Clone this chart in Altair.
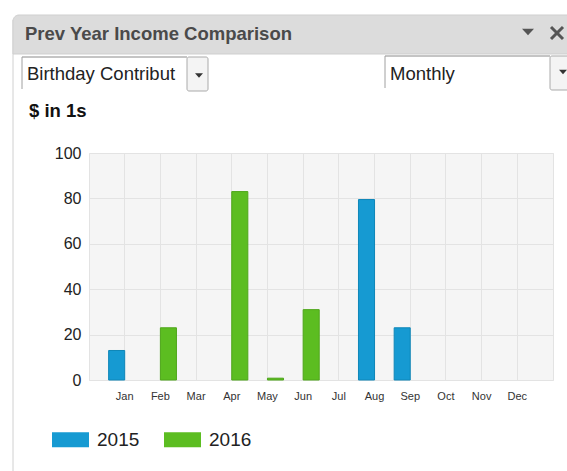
import altair as alt
import pandas as pd

# ---------------- data ----------------
months = ["Jan", "Feb", "Mar", "Apr", "May", "Jun", "Jul", "Aug", "Sep", "Oct", "Nov", "Dec"]
years = ["2015", "2016"]
income_2015 = [13, 0, 0, 0, 0, 0, 0, 79.5, 23, 0, 0, 0]
income_2016 = [0, 23, 0, 83, 0.8, 31, 0, 0, 0, 0, 0, 0]
y_ticks = [0, 20, 40, 60, 80, 100]

bar_colors = ["#169ad2", "#5cbd21"]
bar_edges = ["#0e86b8", "#4ea61a"]

title_text = "Prev Year Income Comparison"
fund_label = "Birthday Contribut"
period_label = "Monthly"
unit_label = "$ in 1s"

rows = []
for m, a, b in zip(months, income_2015, income_2016):
    rows.append({"month": m, "year": years[0], "value": a})
    rows.append({"month": m, "year": years[1], "value": b})
df = pd.DataFrame(rows)

# ---------------- layout ----------------
W, H = 464, 227
OX, OY = 89, 153
FONT = "Liberation Sans"
GRID = "#e3e3e3"


def px(x):
    return alt.value(x - OX)


def py(y):
    return alt.value(y - OY)


one = pd.DataFrame({"k": [0]})


def rect(x1, y1, x2, y2, **kw):
    return alt.Chart(one).mark_rect(**kw).encode(x=px(x1), x2=px(x2), y=py(y1), y2=py(y2))


def rule(x1, y1, x2, y2, **kw):
    return alt.Chart(one).mark_rule(**kw).encode(x=px(x1), x2=px(x2), y=py(y1), y2=py(y2))


def text(s, x, y, **kw):
    return alt.Chart(one).mark_text(font=FONT, align="left", baseline="alphabetic", **kw).encode(
        x=px(x), y=py(y), text=alt.value(s))


def tri(x, y, w, color):
    return alt.Chart(one).mark_point(shape="M-1,-0.55L1,-0.55L0,0.55Z", filled=True, size=w * w,
                                     color=color, opacity=1, strokeWidth=0).encode(x=px(x), y=py(y))


chrome = [
    rule(13, 20, 13, 480, color="#d0d0d0"),
    rect(13, 15, 620, 54, fill="#dcdcdc", stroke="#cfcfcf", cornerRadiusTopLeft=6),
    text(title_text, 25, 40, fontSize=18.5, fontWeight="bold", color="#4a4a4a"),
    tri(528, 32, 12, "#555555"),
    rule(551, 27, 563, 39, color="#555555", strokeWidth=3),
    rule(551, 39, 563, 27, color="#555555", strokeWidth=3),
    # dropdown 1
    rect(22, 57, 187, 92, fill="#ffffff"),
    rule(22, 57, 187, 57, color="#8a8a8a"),
    rule(22, 57, 22, 89, color="#a0a0a0"),
    rect(187, 57, 208, 91, fill="#f4f4f4", stroke="#aaaaaa", cornerRadius=2),
    tri(199, 75.5, 8, "#333333"),
    text(fund_label, 27, 80, fontSize=18.5, color="#222222"),
    # dropdown 2
    rect(385, 56, 550, 90, fill="#ffffff"),
    rule(385, 56, 550, 56, color="#8a8a8a"),
    rule(385, 56, 385, 88, color="#a0a0a0"),
    rect(550, 56, 590, 90, fill="#f4f4f4", stroke="#aaaaaa", cornerRadius=2),
    tri(563, 72, 8, "#333333"),
    text(period_label, 390, 80, fontSize=18.5, color="#222222"),
    # unit label
    text(unit_label, 29, 117, fontSize=18.5, fontWeight="bold", color="#111111"),
]

bars = alt.Chart(df).transform_filter("datum.value > 0").mark_bar(strokeWidth=1).encode(
    x=alt.X("month:N", sort=months,
            scale=alt.Scale(domain=months, paddingInner=0.1, paddingOuter=0.55),
            axis=alt.Axis(title=None, labelAngle=0, labelFont=FONT, labelFontSize=11,
                          labelColor="#333333", labelPadding=10, ticks=False, domain=False,
                          grid=True, gridColor=GRID)),
    xOffset=alt.XOffset("year:N", scale=alt.Scale(domain=years)),
    y=alt.Y("value:Q", scale=alt.Scale(domain=[0, 100]),
            axis=alt.Axis(title=None, values=y_ticks, labelFont=FONT, labelFontSize=16,
                          labelColor="#222222", labelPadding=8, ticks=False, domain=False,
                          grid=True, gridColor=GRID)),
    color=alt.Color("year:N", scale=alt.Scale(domain=years, range=bar_colors),
                    legend=alt.Legend(title=None, orient="none", legendX=52 - OX, legendY=268,
                                      direction="horizontal",
                                      symbolType="M-1,-0.405H1V0.405H-1Z", symbolSize=1369,
                                      symbolStrokeWidth=0, symbolOpacity=1,
                                      labelFont=FONT, labelFontSize=19, labelColor="#222222",
                                      labelOffset=8, columnPadding=24, padding=0)),
    stroke=alt.Stroke("year:N", scale=alt.Scale(domain=years, range=bar_edges), legend=None),
)

chart = alt.layer(*chrome, bars).properties(
    width=W, height=H,
    padding={"left": OX, "top": OY, "right": 567 - OX - W, "bottom": 471 - OY - H},
    autosize=alt.AutoSizeParams(type="none"),
    background="#ffffff",
).configure_view(fill="#f5f5f5", stroke=GRID)

chart.save("out.html", embed_options={"renderer": "svg", "actions": False})
